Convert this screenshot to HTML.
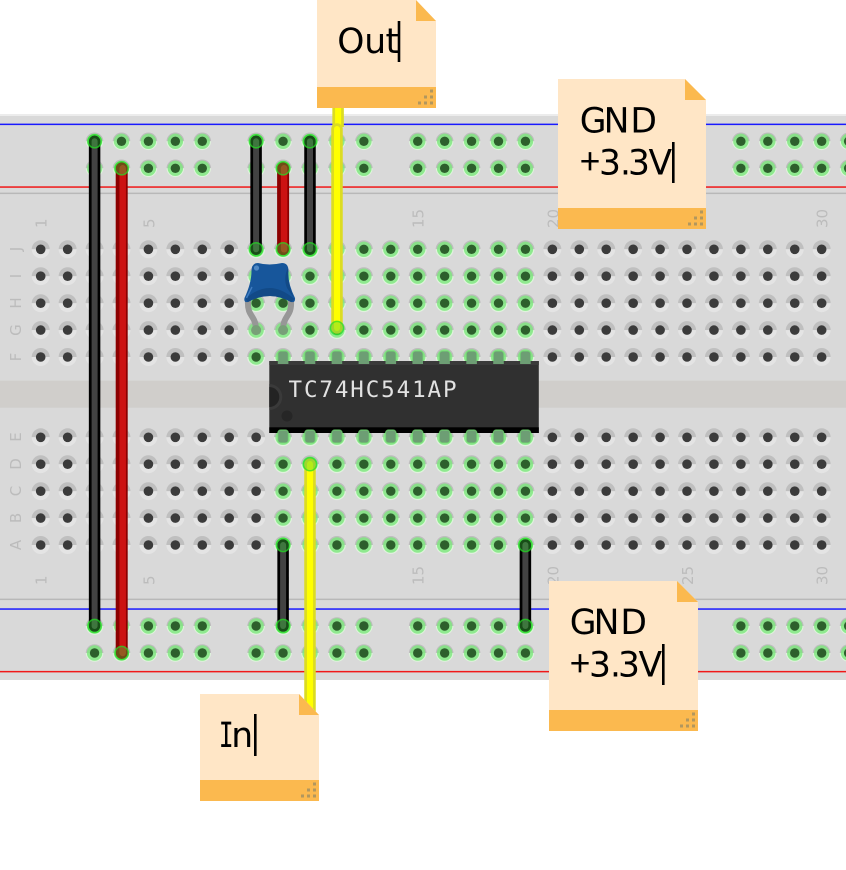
<!DOCTYPE html>
<html><head><meta charset="utf-8"><style>html,body{margin:0;padding:0;background:#fff}svg{display:block}
.n{font-family:"DejaVu Sans","Liberation Sans",sans-serif;font-size:15px;fill:#bcbcbc}
.t{font-family:"DejaVu Sans","Liberation Sans",sans-serif;font-size:34.5px;fill:#000}
.p{font-family:"Noto Sans CJK JP","Liberation Sans",sans-serif;font-size:36px;fill:#000}
</style></head><body>
<svg width="846" height="870" viewBox="0 0 846 870" xmlns="http://www.w3.org/2000/svg">
<defs>
<g id="h"><path d="M-9 0A9 9 0 0 1 9 0Z" fill="#bfbfbf"/><path d="M-9 0A9 9 0 0 0 9 0Z" fill="#e4e4e4"/><circle r="4.8" fill="#3b3b3b"/></g>
<g id="g"><path d="M-8.8 0A8.8 8.8 0 0 1 8.8 0Z" fill="#bdbdbd"/><path d="M-8.8 0A8.8 8.8 0 0 0 8.8 0Z" fill="#dff4dc"/><circle r="7.7" fill="#7ee67e" fill-opacity=".82"/><circle r="4.7" fill="#2d5f2c"/></g>
<g id="g5"><use href="#g"/><use href="#g" x="26.93"/><use href="#g" x="53.86"/><use href="#g" x="80.79"/><use href="#g" x="107.72"/></g>
<g id="g10"><use href="#g5"/><use href="#g5" x="134.65"/></g>
<g id="h5"><use href="#h"/><use href="#h" x="26.93"/><use href="#h" x="53.86"/><use href="#h" x="80.79"/><use href="#h" x="107.72"/></g>
<g id="h30"><use href="#h5"/><use href="#h5" x="134.65"/><use href="#h5" x="269.3"/><use href="#h5" x="403.95"/><use href="#h5" x="538.6"/><use href="#h5" x="673.25"/></g>
<g id="rail"><use href="#g5" x="94.56"/><use href="#g5" x="256.14"/><use href="#g5" x="417.72"/><use href="#g5" x="579.3"/><use href="#g5" x="740.88"/></g>
<g id="up"><use href="#h30" x="40.7"/><use href="#g" x="256.14"/><use href="#g10" x="283.07"/></g>
<g id="lo"><use href="#h30" x="40.7"/><use href="#g10" x="283.07"/></g>
<g id="p"><rect x="-5.3" width="10.6" height="13" rx="3" fill="#6d9e74" stroke="#74e074" stroke-opacity=".7" stroke-width="1.2"/></g>
<g id="p5"><use href="#p"/><use href="#p" x="26.93"/><use href="#p" x="53.86"/><use href="#p" x="80.79"/><use href="#p" x="107.72"/></g>
<g id="p10"><use href="#p5"/><use href="#p5" x="134.65"/></g>
<g id="dots" fill="#b2975e"><rect x="-18" y="-6.5" width="3" height="3"/><rect x="-12" y="-6.5" width="3" height="3"/><rect x="-6" y="-6.5" width="3" height="3"/><rect x="-12" y="-12.5" width="3" height="3"/><rect x="-6" y="-12.5" width="3" height="3"/><rect x="-6" y="-18.5" width="3" height="3"/></g>
<circle id="end" r="6.6" fill="#3ccc3c" fill-opacity=".38" stroke="#22e022" stroke-opacity=".7" stroke-width="1.5"/>
</defs>

<rect x="0" y="114" width="846" height="566" fill="#d9d9d9"/>
<rect x="0" y="114" width="846" height="2" fill="#ececec"/>
<rect x="0" y="380.7" width="846" height="27" fill="#d0cecb"/>
<rect x="0" y="123.6" width="846" height="1.5" fill="#1a1aff"/>
<rect x="0" y="186.3" width="846" height="1.5" fill="#f01818"/>
<rect x="0" y="192.6" width="846" height="1.5" fill="#b8b8b8"/>
<rect x="0" y="598.6" width="846" height="1.5" fill="#b8b8b8"/>
<rect x="0" y="608.3" width="846" height="1.5" fill="#1a1aff"/>
<rect x="0" y="670.9" width="846" height="1.5" fill="#f01818"/>

<g class="n">
<text transform="translate(46.7,228) rotate(-90)">1</text>
<text transform="translate(154.4,228) rotate(-90)">5</text>
<text transform="translate(289.1,228) rotate(-90)">10</text>
<text transform="translate(423.7,228) rotate(-90)">15</text>
<text transform="translate(558.4,228) rotate(-90)">20</text>
<text transform="translate(693,228) rotate(-90)">25</text>
<text transform="translate(827.7,228) rotate(-90)">30</text>
<text transform="translate(46.7,585) rotate(-90)">1</text>
<text transform="translate(154.4,585) rotate(-90)">5</text>
<text transform="translate(289.1,585) rotate(-90)">10</text>
<text transform="translate(423.7,585) rotate(-90)">15</text>
<text transform="translate(558.4,585) rotate(-90)">20</text>
<text transform="translate(693,585) rotate(-90)">25</text>
<text transform="translate(827.7,585) rotate(-90)">30</text>
</g>
<g class="n" text-anchor="middle">
<text transform="translate(21,249) rotate(-90)">J</text>
<text transform="translate(21,276) rotate(-90)">I</text>
<text transform="translate(21,303) rotate(-90)">H</text>
<text transform="translate(21,330) rotate(-90)">G</text>
<text transform="translate(21,357) rotate(-90)">F</text>
<text transform="translate(21,437) rotate(-90)">E</text>
<text transform="translate(21,464) rotate(-90)">D</text>
<text transform="translate(21,491) rotate(-90)">C</text>
<text transform="translate(21,518) rotate(-90)">B</text>
<text transform="translate(21,545) rotate(-90)">A</text>
</g>

<use href="#rail" y="141.3"/><use href="#rail" y="168.3"/>
<use href="#up" y="249.3"/><use href="#up" y="276.2"/><use href="#up" y="303.2"/><use href="#up" y="330.1"/><use href="#up" y="357"/>
<use href="#lo" y="437.3"/><use href="#lo" y="464.2"/><use href="#lo" y="491.2"/><use href="#lo" y="518.1"/><use href="#lo" y="545"/>
<use href="#rail" y="626"/><use href="#rail" y="653"/>

<!-- IC -->
<use href="#p10" x="283.07" y="351"/>
<rect x="269.3" y="361" width="269.5" height="72" fill="#303030"/>
<rect x="269.3" y="361" width="269.5" height="4" fill="#3a3a3a"/>
<rect x="269.3" y="427.3" width="269.5" height="5.7" fill="#000"/>
<path d="M269.3 384A13 13 0 0 1 269.3 410Z" fill="#3a3a3a"/>
<path d="M269.3 387A10 10 0 0 1 269.3 407Z" fill="#232323"/>
<circle cx="287" cy="416" r="5.5" fill="#262626"/>
<g fill="#6d9e74"><use href="#p10" x="283.07" y="430"/></g>
<rect x="277.8" y="361" width="10.6" height="3" fill="#6d9e74"/><rect x="304.7" y="361" width="10.6" height="3" fill="#6d9e74"/><rect x="331.6" y="361" width="10.6" height="3" fill="#6d9e74"/><rect x="358.6" y="361" width="10.6" height="3" fill="#6d9e74"/><rect x="385.5" y="361" width="10.6" height="3" fill="#6d9e74"/><rect x="412.4" y="361" width="10.6" height="3" fill="#6d9e74"/><rect x="439.3" y="361" width="10.6" height="3" fill="#6d9e74"/><rect x="466.3" y="361" width="10.6" height="3" fill="#6d9e74"/><rect x="493.2" y="361" width="10.6" height="3" fill="#6d9e74"/><rect x="520.1" y="361" width="10.6" height="3" fill="#6d9e74"/>
<text x="288.5" y="397" font-family="DejaVu Sans Mono,monospace" font-size="22.5" fill="#e2e2e2" textLength="168" lengthAdjust="spacing">TC74HC541AP</text>

<!-- capacitor -->
<g fill="none" stroke="#979797" stroke-width="6" stroke-linecap="round">
<path d="M248 301C247 317 256 315 256 330"/>
<path d="M291 301C292 317 283 315 283 330"/>
</g>
<circle cx="256.1" cy="330.1" r="5" fill="#789f78"/><circle cx="283.1" cy="330.1" r="5" fill="#789f78"/>
<path d="M258 263Q269 266 282 263Q288.5 263 288.5 271Q287.5 283 295 298Q295.5 303 291 302Q280 296 270 296Q259 296 248 302Q243.5 303 244.5 298Q251.5 283 251.5 271Q251.5 263 258 263Z" fill="#17569b"/>
<path d="M248 302Q259 296 270 296Q280 296 291 302L294.5 299Q281 288 270 288Q257 288 245.5 299Z" fill="#124a87"/>
<path d="M288 268Q283 278 287 288L294 298Q287 283 288 268Z" fill="#124a87"/>
<circle cx="256.5" cy="268" r="2.6" fill="#4f88c4"/>
<path d="M246.5 298Q250 291 252 287" fill="none" stroke="#3f7cc0" stroke-width="1.4"/>

<!-- wires -->
<g fill="none" stroke-linecap="round">
<g stroke="#000" stroke-width="11.5"><path d="M94.6 141.3V626"/><path d="M256.1 141.3V249.3"/><path d="M310 141.3V249.3"/><path d="M283.1 545V626"/><path d="M525.4 545V626"/></g>
<g stroke="#424242" stroke-width="6"><path d="M94.6 141.3V626"/><path d="M256.1 141.3V249.3"/><path d="M310 141.3V249.3"/><path d="M283.1 545V626"/><path d="M525.4 545V626"/></g>
<g stroke="#8b0000" stroke-width="12"><path d="M121.7 168.3V653"/><path d="M283.1 168.3V249.3"/></g>
<g stroke="#cc1212" stroke-width="6.5"><path d="M122.7 168.3V653"/><path d="M284.1 168.3V249.3"/></g>
<path d="M338.1 100V127" stroke="#dcdc22" stroke-width="11.5" stroke-linecap="butt"/>
<path d="M338.1 100V127" stroke="#ffff00" stroke-width="6" stroke-linecap="butt"/>
<path d="M337 129V328" stroke="#dcdc22" stroke-width="11.5"/>
<path d="M337 129V328" stroke="#ffff00" stroke-width="6"/>
<path d="M310 464V720" stroke="#dcdc22" stroke-width="11.5"/>
<path d="M310 464V720" stroke="#ffff00" stroke-width="6"/>
</g>
<use href="#end" x="94.6" y="141.3"/><use href="#end" x="94.6" y="626"/>
<use href="#end" x="121.7" y="168.3"/><use href="#end" x="121.7" y="653"/>
<use href="#end" x="256.1" y="141.3"/><use href="#end" x="256.1" y="249.3"/>
<use href="#end" x="283.1" y="168.3"/><use href="#end" x="283.1" y="249.3"/>
<use href="#end" x="310" y="141.3"/><use href="#end" x="310" y="249.3"/>
<use href="#end" x="337" y="328"/><use href="#end" x="310" y="464.2"/>
<use href="#end" x="283.1" y="545"/><use href="#end" x="283.1" y="626"/>
<use href="#end" x="525.4" y="545"/><use href="#end" x="525.4" y="626"/>

<!-- Out note -->
<path d="M317 0H416L436 21V108H317Z" fill="#ffe6c6"/>
<path d="M416 0L436 21H416Z" fill="#fbb94f"/>
<rect x="317" y="87" width="119" height="21" fill="#fbb94f"/>
<use href="#dots" x="436" y="108"/>
<text class="t" x="337.3 364.2 385.5" y="53">Out</text>
<rect x="397.7" y="21" width="2.6" height="41" fill="#000"/>

<!-- GND top note -->
<path d="M558 79H685L706 100V229H558Z" fill="#ffe6c6"/>
<path d="M685 79L706 100H685Z" fill="#fbb94f"/>
<rect x="558" y="208" width="148" height="21" fill="#fbb94f"/>
<use href="#dots" x="706" y="229"/>
<text class="t" x="579.7 603.6 630.4" y="132.5">GND</text>
<text class="p" x="580" y="174.5">+</text>
<text class="t" x="599 620 628 648.5" y="174.5">3.3V</text>
<rect x="672" y="142" width="2.6" height="41" fill="#000"/>

<!-- GND bottom note -->
<path d="M549 581H677L698 602V731H549Z" fill="#ffe6c6"/>
<path d="M677 581L698 602H677Z" fill="#fbb94f"/>
<rect x="549" y="710" width="149" height="21" fill="#fbb94f"/>
<use href="#dots" x="698" y="731"/>
<text class="t" x="569.7 593.6 620.4" y="634">GND</text>
<text class="p" x="570" y="676.5">+</text>
<text class="t" x="589 610 618 638.5" y="676.5">3.3V</text>
<rect x="662" y="644" width="2.6" height="41" fill="#000"/>

<!-- In note -->
<path d="M200 694H299L319 715V801H200Z" fill="#ffe6c6"/>
<path d="M299 694L319 715H299Z" fill="#fbb94f"/>
<rect x="200" y="780" width="119" height="21" fill="#fbb94f"/>
<use href="#dots" x="319" y="801"/>
<text transform="translate(218.7,747) scale(.72,1)" font-family="DejaVu Sans Mono,monospace" font-size="34.5" fill="#000">I</text>
<text class="t" x="231.2" y="747">n</text>
<rect x="254" y="714" width="2.6" height="42" fill="#000"/>
</svg>
</body></html>
